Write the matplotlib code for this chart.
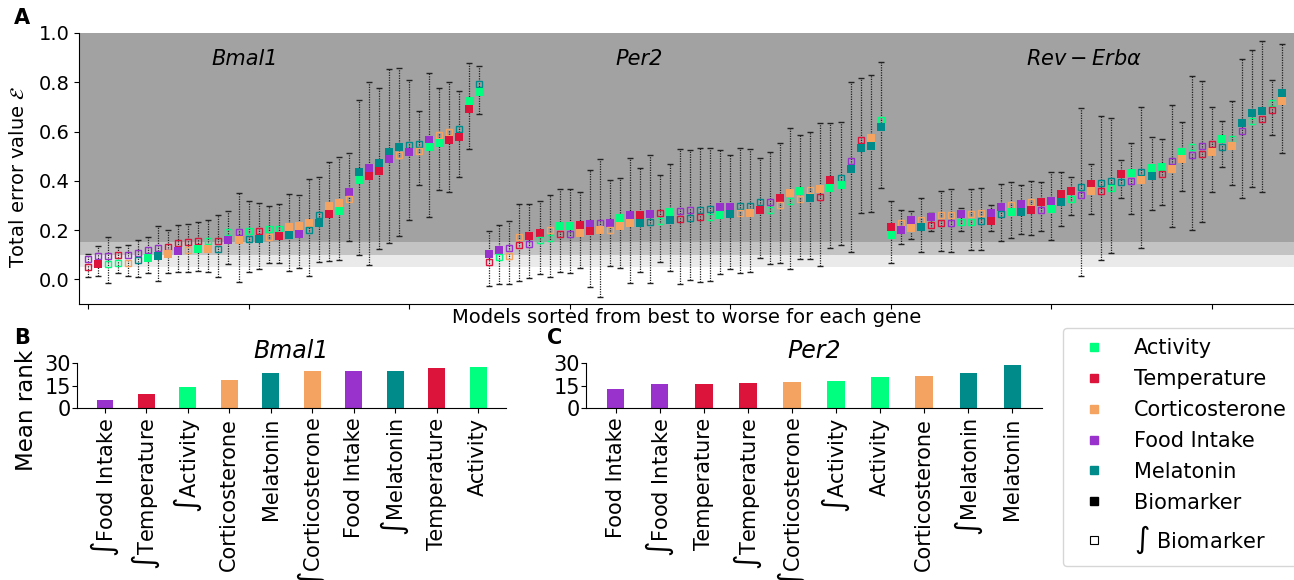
import numpy as np
import matplotlib
matplotlib.use("Agg")
import matplotlib.pyplot as plt
from matplotlib.lines import Line2D

# biomarker colours
colors = {"A": "#00ff7f", "T": "#dc143c", "C": "#f4a460", "F": "#9932cc", "M": "#008b8b"}
names = {"A": "Activity", "T": "Temperature", "C": "Corticosterone", "F": "Food Intake", "M": "Melatonin"}

genes = ["Bmal1", "Per2", "Rev-Erba"]

# models: "top/bottom" marker, prefix i = integrated biomarker (open square)
bmal1_pairs = ["iF/iT", "iF/T", "iF/iA", "iT/iA", "iF/iC", "iF/iM", "iF/A", "iF/M", "iT/C", "iT/F",
               "iT/iC", "iT/A", "iA/C", "iT/iM", "iA/F", "iF/C", "iA/iM", "iT/M", "iA/iC", "iA/T",
               "C/M", "C/F", "C/iM", "iM/M", "C/T", "C/A", "F/iC", "M/A", "F/T", "M/T",
               "M/F", "M/iC", "iM/F", "iM/iC", "F/A", "iC/A", "iC/T", "iM/T", "A/T", "iM/A"]
bmal1_val = [0.065, 0.079, 0.079, 0.082, 0.082, 0.093, 0.103, 0.110, 0.117, 0.131,
             0.136, 0.140, 0.140, 0.140, 0.177, 0.177, 0.180, 0.181, 0.188, 0.190,
             0.197, 0.201, 0.215, 0.246, 0.282, 0.293, 0.340, 0.419, 0.435, 0.456,
             0.503, 0.521, 0.531, 0.535, 0.551, 0.571, 0.582, 0.593, 0.707, 0.777]
bmal1_hi = [0.103, 0.137, 0.170, 0.131, 0.140, 0.158, 0.170, 0.218, 0.199, 0.219,
            0.224, 0.234, 0.239, 0.260, 0.279, 0.351, 0.320, 0.309, 0.299, 0.307,
            0.348, 0.344, 0.408, 0.415, 0.478, 0.497, 0.514, 0.729, 0.803, 0.776,
            0.852, 0.859, 0.811, 0.682, 0.838, 0.776, 0.800, 0.763, 0.878, 0.868]
bmal1_lo = [0.011, 0.015, -0.014, 0.024, 0.015, 0.011, 0.027, -0.005, 0.024, 0.029,
            0.031, 0.033, 0.029, 0.011, 0.063, -0.010, 0.029, 0.041, 0.065, 0.065,
            0.034, 0.048, 0.014, 0.069, 0.076, 0.079, 0.154, 0.099, 0.059, 0.124,
            0.147, 0.178, 0.239, 0.382, 0.253, 0.361, 0.354, 0.416, 0.531, 0.673]

per2_pairs = ["F/iT", "F/iA", "iF/iC", "iC/iT", "T/iF", "T/iA", "iC/iA", "A/iT", "A/iF", "T/C",
              "F/T", "iF/C", "F/iC", "A/C", "F/C", "T/M", "F/iM", "iT/iA", "A/M", "iF/iT",
              "iF/iM", "iM/iT", "iM/iA", "F/A", "F/M", "iM/iC", "iM/C", "iM/T", "iF/iA", "T/iC",
              "C/iA", "A/iC", "iC/M", "C/iT", "T/A", "iM/A", "iF/M", "iT/M", "C/M", "iA/M"]
per2_val = [0.088, 0.105, 0.112, 0.156, 0.161, 0.174, 0.185, 0.201, 0.201, 0.205,
            0.210, 0.215, 0.215, 0.234, 0.245, 0.246, 0.249, 0.254, 0.257, 0.261,
            0.264, 0.267, 0.268, 0.276, 0.279, 0.284, 0.284, 0.297, 0.297, 0.316,
            0.335, 0.341, 0.346, 0.351, 0.388, 0.397, 0.463, 0.548, 0.558, 0.633]
per2_hi = [0.195, 0.219, 0.235, 0.307, 0.306, 0.317, 0.344, 0.365, 0.367, 0.355,
           0.442, 0.490, 0.405, 0.410, 0.494, 0.453, 0.503, 0.422, 0.469, 0.531,
           0.524, 0.535, 0.535, 0.524, 0.505, 0.532, 0.531, 0.491, 0.517, 0.555,
           0.616, 0.585, 0.599, 0.634, 0.634, 0.639, 0.800, 0.816, 0.831, 0.882]
per2_lo = [-0.027, -0.019, -0.019, -0.007, 0.007, 0.020, 0.011, 0.029, 0.024, 0.045,
           -0.033, -0.071, 0.054, 0.048, -0.016, 0.029, -0.016, 0.072, 0.035, -0.019,
           -0.003, -0.012, -0.007, 0.020, 0.041, 0.024, 0.031, 0.088, 0.063, 0.065,
           0.041, 0.084, 0.082, 0.056, 0.129, 0.140, 0.113, 0.269, 0.272, 0.371]

rev_pairs = ["T/A", "iC/F", "F/C", "iC/M", "F/iT", "iC/iT", "iC/iF", "F/iA", "iC/iA", "iC/iM",
             "F/T", "F/iM", "iC/A", "F/M", "iC/T", "T/iF", "F/A", "T/M", "T/iA", "iM/iF",
             "T/C", "iM/iT", "iM/iA", "T/iM", "A/iF", "iM/C", "A/M", "A/iT", "iF/C", "A/C",
             "iA/iF", "iF/iT", "iT/C", "A/iM", "iA/C", "M/iF", "M/iA", "M/iT", "iA/iT", "M/C"]
rev_val = [0.197, 0.215, 0.226, 0.227, 0.237, 0.244, 0.246, 0.248, 0.250, 0.252,
           0.254, 0.279, 0.288, 0.290, 0.297, 0.299, 0.303, 0.331, 0.343, 0.359,
           0.373, 0.376, 0.385, 0.412, 0.416, 0.419, 0.435, 0.442, 0.464, 0.503,
           0.520, 0.524, 0.533, 0.554, 0.555, 0.618, 0.659, 0.667, 0.702, 0.739]
rev_hi = [0.317, 0.280, 0.276, 0.331, 0.269, 0.358, 0.367, 0.290, 0.367, 0.371,
          0.303, 0.389, 0.396, 0.385, 0.399, 0.395, 0.437, 0.435, 0.416, 0.694,
          0.469, 0.664, 0.653, 0.483, 0.555, 0.698, 0.578, 0.571, 0.707, 0.637,
          0.827, 0.804, 0.701, 0.641, 0.722, 0.895, 0.933, 0.967, 0.810, 0.956]
rev_lo = [0.065, 0.143, 0.165, 0.113, 0.197, 0.116, 0.113, 0.195, 0.120, 0.120,
          0.195, 0.156, 0.167, 0.185, 0.181, 0.195, 0.161, 0.215, 0.260, 0.014,
          0.265, 0.079, 0.109, 0.331, 0.265, 0.127, 0.283, 0.301, 0.212, 0.358,
          0.201, 0.233, 0.354, 0.457, 0.382, 0.331, 0.374, 0.354, 0.585, 0.514]

# mean rank bars
bmal1_bar_labels = ["iF", "iT", "iA", "C", "M", "iC", "F", "iM", "T", "A"]
bmal1_rank = [5.2, 9.2, 14.0, 18.7, 23.5, 24.8, 24.8, 24.8, 26.8, 27.5]
per2_bar_labels = ["F", "iF", "T", "iT", "iC", "iA", "A", "C", "iM", "M"]
per2_rank = [12.6, 16.0, 16.0, 16.7, 17.4, 18.0, 20.8, 21.5, 23.5, 28.9]


def label_of(code):
    if code.startswith("i"):
        return r"$\int$" + names[code[1]]
    return names[code]


W, H = 1294, 580
fig = plt.figure(figsize=(W / 100, H / 100), dpi=100)

# ---- panel A
ax = fig.add_axes([79 / W, 1 - 304 / H, 1 - 79 / W, 271 / H])
ax.axhspan(0.15, 1.0, color="#a2a2a2", lw=0, zorder=0)
ax.axhspan(0.10, 0.15, color="#c3c3c3", lw=0, zorder=0)
ax.axhspan(0.05, 0.10, color="#eaeaea", lw=0, zorder=0)

all_pairs = [bmal1_pairs, per2_pairs, rev_pairs]
all_val = [bmal1_val, per2_val, rev_val]
all_hi = [bmal1_hi, per2_hi, rev_hi]
all_lo = [bmal1_lo, per2_lo, rev_lo]

off = 0.0157
for g in range(3):
    v = np.array(all_val[g])
    x = np.arange(len(v)) + 40 * g
    yerr = [v - np.array(all_lo[g]), np.array(all_hi[g]) - v]
    eb = ax.errorbar(x, v, yerr=yerr, fmt="none", ecolor="#222222", elinewidth=0.9,
                     capsize=2.5, capthick=1, zorder=2)
    eb[2][0].set_linestyle((0, (1, 1)))
    for xi, vi, pair in zip(x, v, all_pairs[g]):
        top, bot = pair.split("/")
        for code, y in [(top, vi + off), (bot, vi - off)]:
            c = colors[code[-1]]
            if code.startswith("i"):
                ax.plot(xi, y, "s", ms=5.0, mfc="none", mec=c, mew=1.0, zorder=3)
            else:
                ax.plot(xi, y, "s", ms=5.9, mfc=c, mec=c, mew=0, zorder=3)

ax.text(12.3, 0.895, "Bmal1", style="italic", fontsize=15, va="center")
ax.text(52.6, 0.895, "Per2", style="italic", fontsize=15, va="center")
ax.text(93.5, 0.895, r"$Rev-Erb\alpha$", fontsize=15, va="center")

ax.set_xlim(-0.9, 120.2)
ax.set_ylim(-0.1, 1.0)
ax.set_yticks([0.0, 0.2, 0.4, 0.6, 0.8, 1.0])
ax.set_yticklabels(["0.0", "0.2", "0.4", "0.6", "0.8", "1.0"])
ax.set_xticks(np.arange(0, 120, 16))
ax.set_xticklabels([])
ax.tick_params(labelsize=14)
ax.set_xlabel("Models sorted from best to worse for each gene", fontsize=14, labelpad=-4)
ax.set_ylabel(r"Total error value $\mathcal{E}$", fontsize=14)
ax.yaxis.set_label_coords(-0.042, 0.47)
for s in ["top", "right"]:
    ax.spines[s].set_visible(False)

# ---- panels B and C
def bar_panel(rect, labels, ranks, title):
    bx = fig.add_axes(rect)
    cols = [colors[c[-1]] for c in labels]
    bx.bar(np.arange(len(ranks)), ranks, width=0.4, color=cols)
    bx.set_ylim(0, 30)
    bx.set_yticks([0, 15, 30])
    bx.set_xticks(np.arange(len(ranks)))
    bx.set_xticklabels([label_of(c) for c in labels], rotation=90, fontsize=15)
    bx.tick_params(axis="y", labelsize=15, pad=1)
    bx.set_title(title, style="italic", fontsize=17, pad=2)
    for s in ["top", "right"]:
        bx.spines[s].set_visible(False)
    return bx

bB = bar_panel([77 / W, 1 - 408 / H, 429 / W, 45 / H], bmal1_bar_labels, bmal1_rank, "Bmal1")
bB.set_ylabel("Mean rank", fontsize=16.5)
bB.yaxis.set_label_coords(-0.09, -0.05)
bar_panel([586 / W, 1 - 408 / H, 456 / W, 45 / H], per2_bar_labels, per2_rank, "Per2")

fig.text(14 / W, 1 - 18 / H, "A", fontsize=15, fontweight="bold", va="center")
fig.text(14 / W, 1 - 338 / H, "B", fontsize=15, fontweight="bold", va="center")
fig.text(547 / W, 1 - 338 / H, "C", fontsize=15, fontweight="bold", va="center")

# legend
handles = [Line2D([], [], ls="none", marker="s", ms=6, mfc=colors[k], mec=colors[k],
                  label=names[k]) for k in ["A", "T", "C", "F", "M"]]
handles.append(Line2D([], [], ls="none", marker="s", ms=6, mfc="k", mec="k", label="Biomarker"))
handles.append(Line2D([], [], ls="none", marker="s", ms=6, mfc="none", mec="k", mew=0.8,
                      label=r"$\int$ Biomarker"))
fig.legend(handles=handles, loc="upper left", bbox_to_anchor=(1063 / W, 1 - 328 / H),
           borderaxespad=0, fontsize=15, labelspacing=0.52, handletextpad=0.9,
           borderpad=0.5)

fig.savefig("out.png", dpi=100)
